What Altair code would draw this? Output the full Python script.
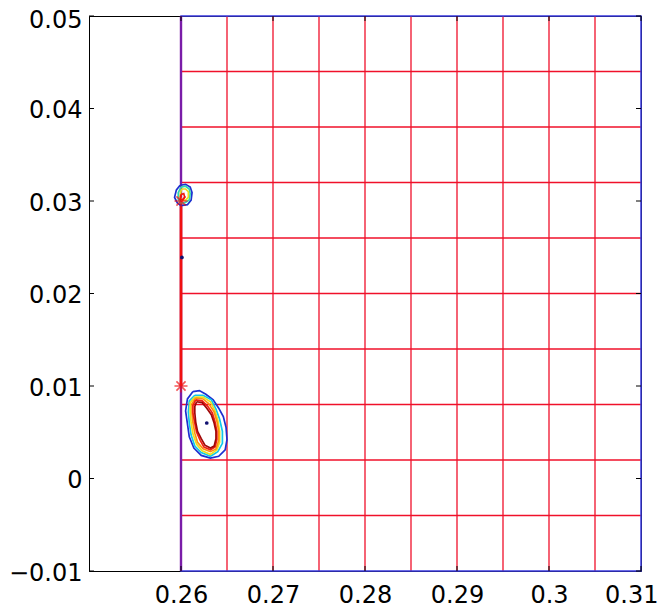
import altair as alt
import pandas as pd

# Axis ticks
x_ticks = [0.26, 0.27, 0.28, 0.29, 0.3, 0.31]
y_ticks = [-0.01, 0.0, 0.01, 0.02, 0.03, 0.04, 0.05]

# Red grid (mesh) lines
grid_x = [0.265, 0.27, 0.275, 0.28, 0.285, 0.29, 0.295, 0.30, 0.305]
grid_y = [-0.004, 0.002, 0.008, 0.014, 0.02, 0.026, 0.032, 0.038, 0.044]
mesh_x0, mesh_x1 = 0.26, 0.31
mesh_y0, mesh_y1 = -0.01, 0.05

# Red segment with star end points
seg_x = [0.26, 0.26]
seg_y = [0.01, 0.03]

# Contour lines, blob near (0.263, 0.006) -- outer (blue) to inner (dark red)
b2_l1_x = [0.2613, 0.2620, 0.2627, 0.2635, 0.2641, 0.2646, 0.2649, 0.2650, 0.2648, 0.2641, 0.2632, 0.2622, 0.2614, 0.2609, 0.2607, 0.2605, 0.2607, 0.2613]
b2_l1_y = [0.0094, 0.0095, 0.0091, 0.0085, 0.0076, 0.0067, 0.0055, 0.0042, 0.0031, 0.0024, 0.0022, 0.0025, 0.0033, 0.0045, 0.0059, 0.0073, 0.0086, 0.0094]
b2_l2_x = [0.2615, 0.2624, 0.2633, 0.2638, 0.2642, 0.2645, 0.2645, 0.2640, 0.2632, 0.2622, 0.2615, 0.2611, 0.2609, 0.2608, 0.2609, 0.2615]
b2_l2_y = [0.0090, 0.0090, 0.0085, 0.0075, 0.0064, 0.0051, 0.0038, 0.0029, 0.0024, 0.0028, 0.0035, 0.0047, 0.0060, 0.0072, 0.0084, 0.0090]
b2_l3_x = [0.2615, 0.2624, 0.2632, 0.2637, 0.2640, 0.2642, 0.2642, 0.2639, 0.2632, 0.2623, 0.2617, 0.2613, 0.2611, 0.2610, 0.2610, 0.2615]
b2_l3_y = [0.0088, 0.0088, 0.0083, 0.0073, 0.0063, 0.0051, 0.0039, 0.0031, 0.0026, 0.0030, 0.0037, 0.0048, 0.0060, 0.0072, 0.0082, 0.0088]
b2_l4_x = [0.2616, 0.2624, 0.2630, 0.2636, 0.2639, 0.2641, 0.2641, 0.2638, 0.2632, 0.2624, 0.2618, 0.2615, 0.2613, 0.2612, 0.2612, 0.2616]
b2_l4_y = [0.0087, 0.0086, 0.0081, 0.0072, 0.0062, 0.0051, 0.0041, 0.0032, 0.0029, 0.0032, 0.0039, 0.0049, 0.0060, 0.0071, 0.0081, 0.0087]
b2_l5_x = [0.2616, 0.2623, 0.2629, 0.2634, 0.2637, 0.2639, 0.2639, 0.2637, 0.2632, 0.2625, 0.2621, 0.2617, 0.2615, 0.2613, 0.2613, 0.2616]
b2_l5_y = [0.0085, 0.0084, 0.0078, 0.0071, 0.0061, 0.0051, 0.0042, 0.0034, 0.0031, 0.0034, 0.0041, 0.0050, 0.0060, 0.0071, 0.0079, 0.0085]
b2_l6_x = [0.2617, 0.2623, 0.2628, 0.2633, 0.2636, 0.2638, 0.2638, 0.2636, 0.2632, 0.2626, 0.2622, 0.2618, 0.2616, 0.2615, 0.2615, 0.2617]
b2_l6_y = [0.0083, 0.0082, 0.0076, 0.0069, 0.0060, 0.0051, 0.0043, 0.0035, 0.0033, 0.0036, 0.0043, 0.0051, 0.0061, 0.0071, 0.0078, 0.0083]

# Contour lines, blob near (0.2605, 0.0305)
b1_l1_x = [0.2599, 0.2605, 0.2610, 0.2612, 0.2611, 0.2607, 0.2600, 0.2596, 0.2593, 0.2595, 0.2599]
b1_l1_y = [0.0317, 0.0318, 0.0315, 0.0309, 0.0301, 0.0296, 0.0295, 0.0298, 0.0304, 0.0312, 0.0317]
b1_l2_x = [0.2600, 0.2605, 0.2609, 0.2610, 0.2609, 0.2604, 0.2599, 0.2597, 0.2597, 0.2600]
b1_l2_y = [0.0315, 0.0316, 0.0313, 0.0308, 0.0301, 0.0298, 0.0298, 0.0302, 0.0309, 0.0315]
b1_l3_x = [0.2601, 0.2605, 0.2608, 0.2608, 0.2605, 0.2601, 0.2599, 0.2600, 0.2601]
b1_l3_y = [0.0313, 0.0313, 0.0310, 0.0304, 0.0301, 0.0301, 0.0305, 0.0311, 0.0313]
b1_l4_x = [0.2600, 0.2603, 0.2604, 0.2602, 0.2599, 0.2600]
b1_l4_y = [0.0307, 0.0308, 0.0304, 0.0301, 0.0302, 0.0307]

# Single points (contour centre dot, small mark on line)
dot_x = [0.2628, 0.2601]
dot_y = [0.0060, 0.0239]

contours = [
    ("b2_1", "#1c2fd0", b2_l1_x, b2_l1_y),
    ("b2_2", "#10c8e8", b2_l2_x, b2_l2_y),
    ("b2_3", "#e8e020", b2_l3_x, b2_l3_y),
    ("b2_4", "#ff9010", b2_l4_x, b2_l4_y),
    ("b2_5", "#f02010", b2_l5_x, b2_l5_y),
    ("b2_6", "#a00808", b2_l6_x, b2_l6_y),
    ("b1_1", "#1c2fd0", b1_l1_x, b1_l1_y),
    ("b1_2", "#30d8b0", b1_l2_x, b1_l2_y),
    ("b1_3", "#e8e020", b1_l3_x, b1_l3_y),
    ("b1_4", "#f02010", b1_l4_x, b1_l4_y),
]

rows = []
for name, col, xs_, ys_ in contours:
    for i, (a, b) in enumerate(zip(xs_, ys_)):
        rows.append({"level": name, "x": a, "y": b, "i": i})
cont_df = pd.DataFrame(rows)
cont_domain = [c[0] for c in contours]
cont_range = [c[1] for c in contours]

W, H = 552, 555
xs = alt.Scale(domain=[0.25, 0.31], nice=False, zero=False)
ys = alt.Scale(domain=[-0.01, 0.05], nice=False, zero=False)

xaxis = alt.Axis(values=x_ticks, grid=False, ticks=False, tickSize=0, labelPadding=12,
                 labelFlush=True, labelFlushOffset=17, labelOverlap=False,
                 labelExpr="'' + datum.value", domainColor="black", labelFontSize=24,
                 labelColor="black", title=None, labelFont="DejaVu Sans")
yaxis = alt.Axis(values=y_ticks, grid=False, ticks=False, tickSize=0, labelPadding=7,
                 labelFlush=False, labelOverlap=False,
                 labelOffset={"condition": {"test": "datum.value >= 0.049", "value": 4}, "value": 2},
                 labelExpr="replace('' + datum.value, '-', '\u2212')", domainColor="black",
                 labelFontSize=24, labelColor="black", title=None, labelFont="DejaVu Sans")

base = alt.Chart(pd.DataFrame({"x": [0.25], "y": [0.0]}))
axes_layer = base.mark_point(opacity=0).encode(
    x=alt.X("x:Q", scale=xs, axis=xaxis), y=alt.Y("y:Q", scale=ys, axis=yaxis))

GRID = "#f0102a"
vgrid = alt.Chart(pd.DataFrame({"x": grid_x})).mark_rule(color=GRID, strokeWidth=1.3).encode(
    x=alt.X("x:Q", scale=xs))
hgrid = alt.Chart(pd.DataFrame({"y": grid_y, "x0": mesh_x0, "x1": mesh_x1})).mark_rule(
    color=GRID, strokeWidth=1.3).encode(
    y=alt.Y("y:Q", scale=ys), x=alt.X("x0:Q", scale=xs), x2="x1:Q")
box = alt.Chart(pd.DataFrame({"x0": [mesh_x0], "x1": [mesh_x1], "y0": [mesh_y0], "y1": [mesh_y1]})).mark_rect(
    filled=False, stroke="#3a3ae0", strokeWidth=1.5).encode(
    x=alt.X("x0:Q", scale=xs), x2="x1:Q", y=alt.Y("y0:Q", scale=ys), y2="y1:Q")
left_line = alt.Chart(pd.DataFrame({"x": [mesh_x0]})).mark_rule(color="#7a1ca8", strokeWidth=2.4).encode(
    x=alt.X("x:Q", scale=xs))

seg_df = pd.DataFrame({"x": seg_x, "y": seg_y})
seg = alt.Chart(seg_df).mark_line(color="#f01010", strokeWidth=2.8).encode(
    x=alt.X("x:Q", scale=xs), y=alt.Y("y:Q", scale=ys))
star_path = "M-1,0L1,0M0,-1L0,1M-0.7,-0.7L0.7,0.7M-0.7,0.7L0.7,-0.7"
stars = alt.Chart(seg_df).mark_point(shape=star_path, size=170, color="#f01010", strokeWidth=1.6,
                                     filled=False).encode(
    x=alt.X("x:Q", scale=xs), y=alt.Y("y:Q", scale=ys))

cont = alt.Chart(cont_df).mark_line(strokeWidth=1.7).encode(
    x=alt.X("x:Q", scale=xs), y=alt.Y("y:Q", scale=ys),
    color=alt.Color("level:N", scale=alt.Scale(domain=cont_domain, range=cont_range), legend=None),
    detail="level:N", order="i:Q")

dots = alt.Chart(pd.DataFrame({"x": dot_x, "y": dot_y})).mark_point(
    filled=True, size=14, color="#101070", opacity=1).encode(
    x=alt.X("x:Q", scale=xs), y=alt.Y("y:Q", scale=ys))

# inward MATLAB-style tick marks
tk = 5
yt = pd.DataFrame({"v": y_ticks})
xt = pd.DataFrame({"v": x_ticks})
ytl = alt.Chart(yt).mark_rule(color="black").encode(
    y=alt.Y("v:Q", scale=ys), x=alt.value(0), x2=alt.value(tk))
ytr = alt.Chart(yt).mark_rule(color="black").encode(
    y=alt.Y("v:Q", scale=ys), x=alt.value(W - tk), x2=alt.value(W))
xtb = alt.Chart(xt).mark_rule(color="black").encode(
    x=alt.X("v:Q", scale=xs), y=alt.value(H - tk), y2=alt.value(H))
xtt = alt.Chart(xt).mark_rule(color="black").encode(
    x=alt.X("v:Q", scale=xs), y=alt.value(0), y2=alt.value(tk))

chart = alt.layer(axes_layer, vgrid, hgrid, box, left_line, seg, cont, dots, stars,
                  ytl, ytr, xtb, xtt).properties(
    width=W, height=H,
    autosize=alt.AutoSizeParams(type="none"),
    padding={"left": 81, "top": 8, "right": 18, "bottom": 44},
    background="white",
).configure_view(stroke="black", strokeWidth=1).configure_axis(
    domainWidth=1)

chart.save("out.html", embed_options={"renderer": "svg", "actions": False})
